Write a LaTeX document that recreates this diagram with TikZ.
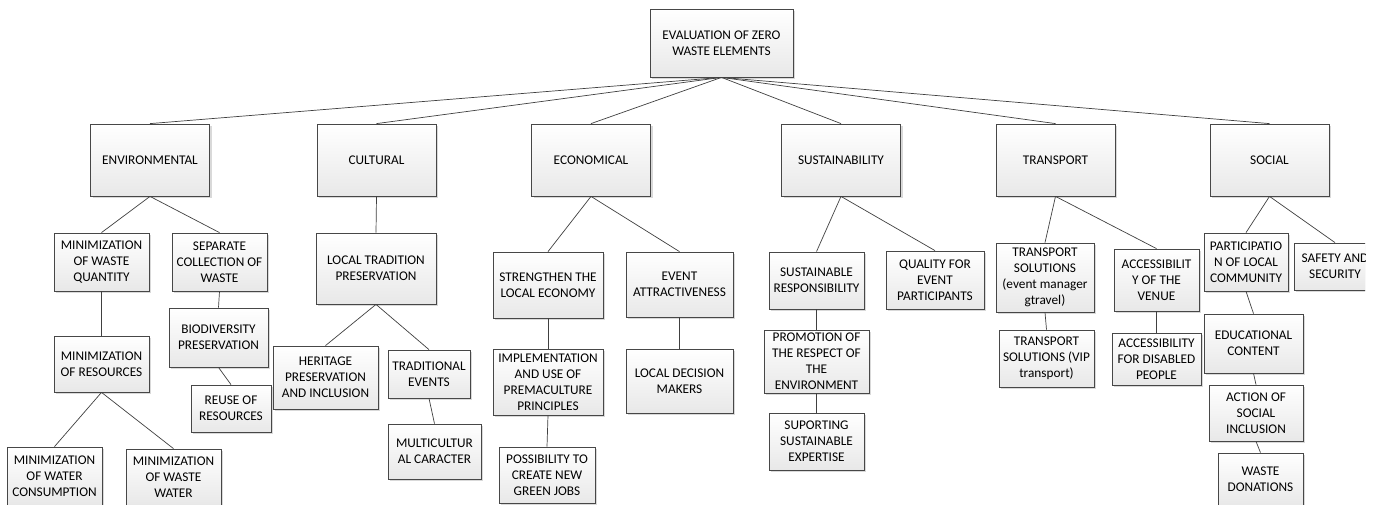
\documentclass[tikz,border=0pt]{standalone}
\usepackage{fontspec}
\setmainfont{Carlito}
\usetikzlibrary{positioning,shadows}
\tikzset{
    %Define style for the boxes
    box/.style={
           rectangle,
           draw=black!72, line width=.8pt,
           top color=white,
           bottom color=black!9,
           drop shadow={shadow xshift=2pt, shadow yshift=-2pt, fill=black, opacity=.15},
           align=center,
           inner sep=1pt,
           font=\fontsize{13.3}{16}\selectfont},
    boxsize/.style 2 args={minimum width=#1pt, minimum height=#2pt},
    % Define connector style
    link/.style={
           draw=black!75,
           line width=.7pt}
}
\begin{document}
\begin{tikzpicture}[x=1pt,y=-1pt]
\path[use as bounding box, fill=white] (0,0) rectangle (1377,504);
\clip (0,0) rectangle (1365,504);
 %top
\node[box, boxsize={143}{68}] (root) at (721.5,43) {EVALUATION OF ZERO\\WASTE ELEMENTS};
 %groups
\node[box, boxsize={119}{72}] (env)   at (150,160)    {ENVIRONMENTAL};
\node[box, boxsize={119}{72}] (cult)  at (376.5,160)  {CULTURAL};
\node[box, boxsize={119}{72}] (econ)  at (591,160)    {ECONOMICAL};
\node[box, boxsize={119}{72}] (sust)  at (841,160)    {SUSTAINABILITY};
\node[box, boxsize={119}{72}] (trans) at (1055.5,160) {TRANSPORT};
\node[box, boxsize={119}{72}] (soc)   at (1269.5,160) {SOCIAL};
 %environmental
\node[box, boxsize={95}{58}] (mwq)   at (101.5,262)   {MINIMIZATION\\OF WASTE\\QUANTITY};
\node[box, boxsize={95}{58}] (sep)   at (219.5,262)   {SEPARATE\\COLLECTION OF\\WASTE};
\node[box, boxsize={99}{59}] (bio)   at (218.5,337.5) {BIODIVERSITY\\PRESERVATION};
\node[box, boxsize={80}{47}] (reuse) at (231,408.5)   {REUSE OF\\RESOURCES};
\node[box, boxsize={95}{56}] (mor)   at (101.5,364)   {MINIMIZATION\\OF RESOURCES};
\node[box, boxsize={95}{58}] (mwc)   at (54.5,476)    {MINIMIZATION\\OF WATER\\CONSUMPTION};
\node[box, boxsize={95}{56}] (mww)   at (173.5,477)   {MINIMIZATION\\OF WASTE\\WATER};
 %cultural
\node[box, boxsize={120}{71}] (ltp)   at (376,268.5)   {LOCAL TRADITION\\PRESERVATION};
\node[box, boxsize={105}{63}] (her)   at (325.5,377.5) {HERITAGE\\PRESERVATION\\AND INCLUSION};
\node[box, boxsize={82}{48}]  (trad)  at (429,374)     {TRADITIONAL\\EVENTS};
\node[box, boxsize={93}{55}]  (multi) at (434.5,451.5) {MULTICULTUR\\AL CARACTER};
 %economical
\node[box, boxsize={110}{66}] (str)  at (548,285)     {STRENGTHEN THE\\LOCAL ECONOMY};
\node[box, boxsize={107}{65}] (att)  at (679.5,284.5) {EVENT\\ATTRACTIVENESS};
\node[box, boxsize={110}{66}] (impl) at (548,382)     {IMPLEMENTATION\\AND USE OF\\PREMACULTURE\\PRINCIPLES};
\node[box, boxsize={96}{56}]  (poss) at (547,475)     {POSSIBILITY TO\\CREATE NEW\\GREEN JOBS};
\node[box, boxsize={107}{64}] (ldm)  at (679.5,381)   {LOCAL DECISION\\MAKERS};
 %sustainability
\node[box, boxsize={95}{57}]  (sresp) at (816.5,280.5) {SUSTAINABLE\\RESPONSIBILITY};
\node[box, boxsize={98}{58}]  (qual)  at (935,280)     {QUALITY FOR\\EVENT\\PARTICIPANTS};
\node[box, boxsize={105}{63}] (prom)  at (816.5,361.5) {PROMOTION OF\\THE RESPECT OF\\THE\\ENVIRONMENT};
\node[box, boxsize={95}{57}]  (sup)   at (816.5,441.5) {SUPORTING\\SUSTAINABLE\\EXPERTISE};
 %transport
\node[box, boxsize={98}{69}] (tsev)  at (1045,277.5)   {TRANSPORT\\SOLUTIONS\\(event manager\\gtravel)};
\node[box, boxsize={85}{62}] (acc)   at (1156.5,280)   {ACCESSIBILIT\\Y OF THE\\VENUE};
\node[box, boxsize={95}{57}] (tsvip) at (1046.5,358.5) {TRANSPORT\\SOLUTIONS (VIP\\transport)};
\node[box, boxsize={89}{52}] (accd)  at (1156.5,359)   {ACCESSIBILITY\\FOR DISABLED\\PEOPLE};
 %social
\node[box, boxsize={84}{58}] (part) at (1246,262)     {PARTICIPATIO\\N OF LOCAL\\COMMUNITY};
\node[box, boxsize={82}{47}] (safe) at (1335,266.5)   {SAFETY AND\\SECURITY};
\node[box, boxsize={99}{59}] (edu)  at (1253.5,343.5) {EDUCATIONAL\\CONTENT};
\node[box, boxsize={94}{56}] (act)  at (1256,413)     {ACTION OF\\SOCIAL\\INCLUSION};
\node[box, boxsize={85}{53}] (wd)   at (1260.5,479.5) {WASTE\\DONATIONS};
 %connectors
\path[link]
    (root.south) edge (env.north) edge (cult.north) edge (econ.north)
                 edge (sust.north) edge (trans.north) edge (soc.north)
    (env.south) edge (mwq.north) edge (sep.north)
    (sep.south) edge (bio.north)
    (bio.south) edge (reuse.north)
    (mwq.south) edge (mor.north)
    (mor.south) edge (mwc.north) edge (mww.north)
    (cult.south) edge (ltp.north)
    (ltp.south) edge (her.north) edge (trad.north)
    (trad.south) edge (multi.north)
    (econ.south) edge (str.north) edge (att.north)
    (str.south) edge (impl.north)
    (impl.south) edge (poss.north)
    (att.south) edge (ldm.north)
    (sust.south) edge (sresp.north) edge (qual.north)
    (sresp.south) edge (prom.north)
    (prom.south) edge (sup.north)
    (trans.south) edge (tsev.north) edge (acc.north)
    (tsev.south) edge (tsvip.north)
    (acc.south) edge (accd.north)
    (soc.south) edge (part.north) edge (safe.north)
    (part.south) edge (edu.north)
    (edu.south) edge (act.north)
    (act.south) edge (wd.north);
\end{tikzpicture}
\end{document}
